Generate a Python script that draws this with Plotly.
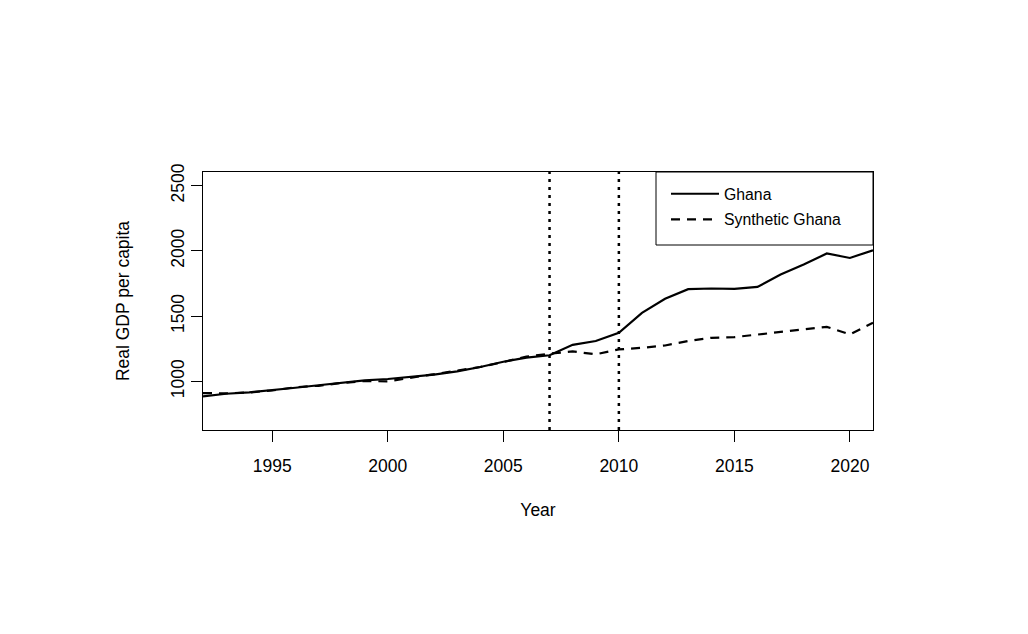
import plotly.graph_objects as go

years = list(range(1992, 2022))
ghana = [885, 905, 916, 931, 951, 970, 990, 1008, 1018, 1033, 1051, 1077, 1110, 1150, 1182, 1200,
         1280, 1309, 1372, 1525, 1633, 1707, 1712, 1709, 1724, 1819, 1896, 1980, 1946, 2005]
synthetic = [910, 908, 915, 930, 955, 966, 988, 1002, 1000, 1028, 1054, 1085, 1110, 1148, 1190, 1212,
             1230, 1207, 1245, 1257, 1275, 1309, 1334, 1339, 1360, 1377, 1398, 1418, 1360, 1449]
treatment_years = [2007, 2010]
x_ticks = [1995, 2000, 2005, 2010, 2015, 2020]
y_ticks = [1000, 1500, 2000, 2500]

FONT = "Liberation Sans, Arial, sans-serif"

# page body has an 8px default margin; compensate in the figure margins
L, T, PW, PH = 195, 164, 670, 258

fig = go.Figure()
fig.add_trace(go.Scatter(x=years, y=ghana, mode="lines", name="Ghana", legendgroup="g1",
                         line=dict(color="black", width=2.2)))
fig.add_trace(go.Scatter(x=years, y=synthetic, mode="lines", name="Synthetic Ghana", legendgroup="g2",
                         line=dict(color="black", width=2.2, dash="9px,7px")))

for ty in treatment_years:
    fig.add_shape(type="line", xref="x", yref="paper", x0=ty, x1=ty, y0=0, y1=1,
                  line=dict(color="black", width=2.5, dash="3px,5px"))

# legend box
fig.add_shape(type="rect", xref="paper", yref="paper",
              x0=(656 - 203) / PW, x1=1, y0=1 - (244 - 171) / PH, y1=1,
              line=dict(color="black", width=1), fillcolor="white", layer="below")

fig.update_layout(
    width=1028, height=634,
    margin=dict(l=L, r=1028 - L - PW, t=T, b=634 - T - PH),
    paper_bgcolor="white", plot_bgcolor="rgba(0,0,0,0)",
    font=dict(family=FONT, size=17.5, color="black"),
    showlegend=True,
    legend=dict(x=463 / PW, xanchor="left", y=1 - 5 / PH, yanchor="top",
                bgcolor="rgba(0,0,0,0)", borderwidth=0, font=dict(size=15.8),
                itemwidth=48, tracegroupgap=2, traceorder="grouped"),
    xaxis=dict(range=[1992, 2021], tickvals=x_ticks, ticks="outside", ticklen=11,
               tickcolor="black", showgrid=False, zeroline=False,
               showline=True, mirror=True, linecolor="black", linewidth=1,
               ticklabelstandoff=9,
               title=dict(text="Year", standoff=28, font=dict(size=17.5))),
    yaxis=dict(range=[627, 2605], tickvals=y_ticks, ticks="outside", ticklen=11,
               tickcolor="black", showgrid=False, zeroline=False, tickangle=-90,
               showline=True, mirror=True, linecolor="black", linewidth=1,
               ticklabelstandoff=0,
               title=dict(text="Real GDP per capita", standoff=33, font=dict(size=17.5))),
)

fig.write_html("out.html")
